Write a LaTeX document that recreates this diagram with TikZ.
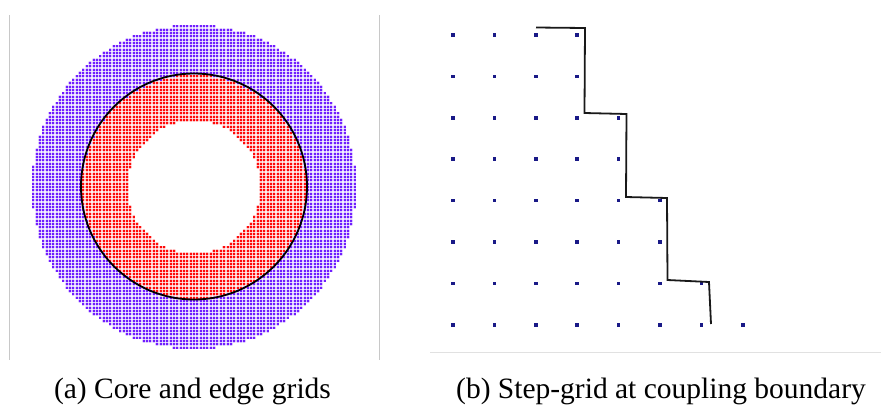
\documentclass[tikz,border=0pt]{standalone}
\usepackage{fontspec}
\setmainfont{Liberation Serif}
\definecolor{dotviolet}{RGB}{112,30,255}
\definecolor{dotred}{RGB}{255,10,10}
\definecolor{navydot}{RGB}{25,25,135}
\definecolor{framegray}{RGB}{200,200,200}
\definecolor{rulegray}{RGB}{225,225,225}
\definecolor{stepline}{RGB}{25,25,25}
\tikzset{
  framerule/.style={draw=framegray,line width=1pt},
  baserule/.style={draw=rulegray,line width=1pt},
  gapline/.style={draw=white,draw opacity=0.75,line width=1.35pt},
  coupling/.style={draw=stepline,line width=1.8pt,line join=miter},
  captext/.style={anchor=base,inner sep=0pt,font=\fontsize{29.5}{34}\selectfont},
}
\newcommand{\gridstrip}[4]{%
  \fill[#1] ({\cx+(#2-0.5)*\sp},{\cy+(#4-0.5)*\sp}) rectangle ({\cx+(#3+0.5)*\sp},{\cy+(#4+0.5)*\sp});}
\begin{document}
\begin{tikzpicture}[x=1pt,y=-1pt]
\useasboundingbox (0,0) rectangle (881,405);
\def\cx{194}\def\cy{187}\def\sp{3.35}
\def\ro{48.5}\def\rmid{33.45}\def\rin{19.75}
% ---- dotted annuli (row strips) ----
\foreach \j in {-49,...,49}{
  \pgfmathtruncatemacro\jj{\j*\j}
  \pgfmathtruncatemacro\nO{floor(sqrt(max(0,\ro*\ro-\jj)))}
  \pgfmathtruncatemacro\nM{floor(sqrt(max(0,\rmid*\rmid-\jj)))}
  \pgfmathtruncatemacro\nI{floor(sqrt(max(0,\rin*\rin-\jj)))}
  \pgfmathtruncatemacro\inO{\jj<\ro*\ro ? 1 : 0}
  \pgfmathtruncatemacro\inM{\jj<\rmid*\rmid ? 1 : 0}
  \pgfmathtruncatemacro\inI{\jj<\rin*\rin ? 1 : 0}
  \pgfmathtruncatemacro\aM{\nM+1}
  \pgfmathtruncatemacro\aI{\nI+1}
  \ifnum\inO=1
    \ifnum\inM=1
      \ifnum\aM>\nO\else
        \gridstrip{dotviolet}{\aM}{\nO}{\j}
        \gridstrip{dotviolet}{-\nO}{-\aM}{\j}
      \fi
      \ifnum\inI=1
        \ifnum\aI>\nM\else
          \gridstrip{dotred}{\aI}{\nM}{\j}
          \gridstrip{dotred}{-\nM}{-\aI}{\j}
        \fi
      \else
        \gridstrip{dotred}{-\nM}{\nM}{\j}
      \fi
    \else
      \gridstrip{dotviolet}{-\nO}{\nO}{\j}
    \fi
  \fi
}
% ---- gaps between dots ----
\foreach \i in {-49,...,50}{
  \draw[gapline] ({\cx+(\i-0.5)*\sp},{\cy-50*\sp}) -- ({\cx+(\i-0.5)*\sp},{\cy+50*\sp});
  \draw[gapline] ({\cx-50*\sp},{\cy+(\i-0.5)*\sp}) -- ({\cx+50*\sp},{\cy+(\i-0.5)*\sp});
}
% ---- coupling circle ----
\draw[line width=1.8pt,black] (194,186.5) circle (113);
% ---- frame rules ----
\coordinate (fl1) at (9.5,15); \coordinate (fl2) at (9.5,360);
\coordinate (fr1) at (379,15); \coordinate (fr2) at (379,360);
\draw[framerule] (fl1) -- (fl2);
\draw[framerule] (fr1) -- (fr2);
\coordinate (bl) at (430,352); \coordinate (br) at (881,352);
\draw[baserule] (bl) -- (br);
% ---- step grid ----
\foreach \r/\n in {1/4,2/4,3/5,4/5,5/6,6/6,7/7,8/8}{
  \foreach \k in {1,...,\n}{
    \fill[navydot] ({453+(\k-1)*41.4-1.75},{35+(\r-1)*41.4-1.75}) rectangle ++(3.5,3.5);
  }
}
\coordinate (s0) at (536,27.5);
\coordinate (s1) at (585,28);
\coordinate (s2) at (584.5,113);
\coordinate (s3) at (626.5,114);
\coordinate (s4) at (626,197);
\coordinate (s5) at (667,198);
\coordinate (s6) at (667.5,280);
\coordinate (s7) at (709,282);
\coordinate (s8) at (711,324);
\draw[coupling] (s0) -- (s1) -- (s2) -- (s3) -- (s4) -- (s5) -- (s6) -- (s7) -- (s8);
% ---- captions ----
\node[captext] (capa) at (192.5,398) {(a) Core and edge grids};
\node[captext] (capb) at (661,398) {(b) Step-grid at coupling boundary};
\end{tikzpicture}
\end{document}
